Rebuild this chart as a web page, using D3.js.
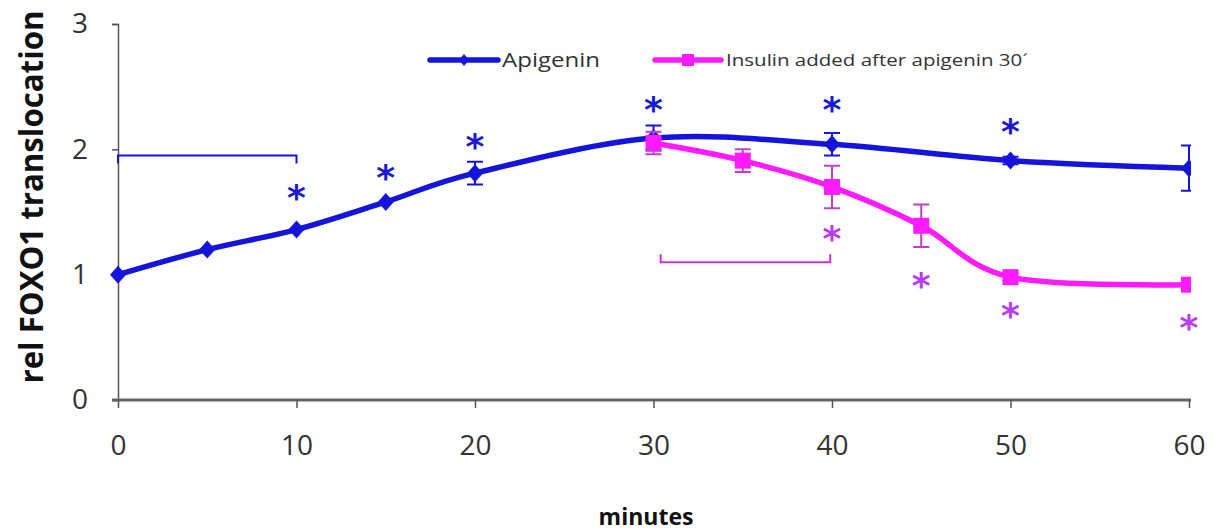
<!DOCTYPE html>
<html lang="en">
<head>
  <meta charset="UTF-8">
  <title>rel FOXO1 translocation</title>
  <style>
    body {
      margin: 0;
      padding: 0;
      background-color: #ffffff;
      font-family: "Open Sans", Arial, sans-serif;
    }
    .axis text {
      font-family: "Open Sans", Arial, sans-serif;
      fill: #333;
    }
  </style>
  <script src="https://d3js.org/d3.v7.min.js"></script>
</head>
<body>
  <div id="chart"></div>
  <script>
    // apigenin alone
    const apiMinutes = [0, 5, 10, 15, 20, 30, 40, 50, 60];
    const apiValues = [1.0, 1.2, 1.36, 1.58, 1.81, 2.09, 2.04, 1.91, 1.85];
    const apiErrors = [0, 0, 0, 0, 0.09, 0.1, 0.09, 0.03, 0.18];

    // insulin added after apigenin 30'
    const insMinutes = [30, 35, 40, 45, 50, 60];
    const insValues = [2.05, 1.91, 1.70, 1.39, 0.98, 0.92];
    const insErrors = [0.09, 0.09, 0.17, 0.17, 0.03, 0.02];

    // significance stars (minute, level)
    const apiStarMinutes = [10, 15, 20, 30, 40, 50];
    const apiStarLevels = [1.66, 1.82, 2.07, 2.36, 2.36, 2.19];
    const insStarMinutes = [40, 45, 50, 60];
    const insStarLevels = [1.33, 0.96, 0.72, 0.62];

    // comparison brackets: [from, to, level]
    const apiBracket = [0, 10, 1.95];
    const insBracket = [30.4, 39.9, 1.10];

    const xTicks = [0, 10, 20, 30, 40, 50, 60];
    const yTicks = [0, 1, 2, 3];
    const legendLabels = ["Apigenin", "Insulin added after apigenin 30\u00B4"];

    const width = 1213;
    const height = 532;
    const blue = "#1414dc";
    const pink = "#ff1aff";
    const blueStar = "#1a1ad6";
    const pinkStar = "#bb3cf0";
    const pinkErr = "#c040c8";

    const svg = d3.select("#chart")
      .append("svg")
      .attr("width", width)
      .attr("height", height);

    const x = d3.scaleLinear().domain([0, 60]).range([118, 1189]);
    const y = d3.scaleLinear().domain([0, 3]).range([400, 24]);

    svg.append("clipPath").attr("id", "plotClip")
      .append("rect")
      .attr("x", 100).attr("y", 0)
      .attr("width", x(60) + 2 - 100).attr("height", 420);

    // y axis
    const yAxis = svg.append("g")
      .attr("class", "axis")
      .attr("transform", `translate(${x(0)},0)`)
      .call(d3.axisLeft(y).tickValues(yTicks).tickSize(6).tickPadding(24).tickFormat(d3.format("d")));
    yAxis.select(".domain").attr("stroke", "#555").attr("stroke-width", 1.5);
    yAxis.selectAll(".tick line").attr("stroke", "#555").attr("stroke-width", 1.5);
    yAxis.selectAll("text").style("font-size", "28px");

    // x axis
    const xAxis = svg.append("g")
      .attr("class", "axis")
      .attr("transform", `translate(0,${y(0)})`)
      .call(d3.axisBottom(x).tickValues(xTicks).tickSize(8).tickPadding(27));
    xAxis.select(".domain").attr("stroke", "#666").attr("stroke-width", 3)
      .attr("d", `M${x(0) - 6},0H${x(60) + 2}`);
    xAxis.selectAll(".tick line").attr("stroke", "#555").attr("stroke-width", 1.5);
    xAxis.selectAll("text").style("font-size", "28px");

    // axis titles
    svg.append("text")
      .attr("transform", `translate(43,197) rotate(-90)`)
      .attr("text-anchor", "middle")
      .style("font-size", "32px")
      .style("font-weight", "bold")
      .attr("fill", "#111")
      .attr("textLength", 373)
      .attr("lengthAdjust", "spacingAndGlyphs")
      .text("rel FOXO1 translocation");

    svg.append("text")
      .attr("x", 646)
      .attr("y", 525)
      .attr("text-anchor", "middle")
      .style("font-size", "23px")
      .style("font-weight", "bold")
      .attr("fill", "#111")
      .text("minutes");

    const plot = svg.append("g").attr("clip-path", "url(#plotClip)");

    // brackets
    function bracket(b, color, dir) {
      const h = dir * 8;
      plot.append("path")
        .attr("d", `M${x(b[0])},${y(b[2]) + h}V${y(b[2])}H${x(b[1])}V${y(b[2]) + h}`)
        .attr("fill", "none")
        .attr("stroke", color)
        .attr("stroke-width", 2);
    }
    bracket(apiBracket, blue, 1);
    bracket(insBracket, "#d030d8", -1);

    const line = d3.line()
      .x(d => x(d[0]))
      .y(d => y(d[1]))
      .curve(d3.curveCardinal.tension(0));

    const apiData = apiMinutes.map((m, i) => [m, apiValues[i], apiErrors[i]]);
    const insData = insMinutes.map((m, i) => [m, insValues[i], insErrors[i]]);

    function errorBars(data, color) {
      const g = plot.append("g");
      data.filter(d => d[2] > 0).forEach(d => {
        const cx = x(d[0]);
        const y1 = y(d[1] + d[2]);
        const y2 = y(d[1] - d[2]);
        g.append("path")
          .attr("d", `M${cx},${y1}V${y2}M${cx - 8},${y1}H${cx + 8}M${cx - 8},${y2}H${cx + 8}`)
          .attr("stroke", color)
          .attr("stroke-width", 2)
          .attr("fill", "none");
      });
    }

    errorBars(apiData, blue);

    plot.append("path")
      .datum(apiData)
      .attr("d", line)
      .attr("fill", "none")
      .attr("stroke", blue)
      .attr("stroke-width", 5.5);

    plot.selectAll(".api-pt")
      .data(apiData)
      .enter()
      .append("path")
      .attr("class", "api-pt")
      .attr("transform", d => `translate(${x(d[0])},${y(d[1])})`)
      .attr("d", "M0,-9L8,0L0,9L-8,0Z")
      .attr("fill", blue);

    errorBars(insData, pinkErr);

    plot.append("path")
      .datum(insData)
      .attr("d", line)
      .attr("fill", "none")
      .attr("stroke", pink)
      .attr("stroke-width", 5.5);

    plot.selectAll(".ins-pt")
      .data(insData)
      .enter()
      .append("rect")
      .attr("class", "ins-pt")
      .attr("x", d => x(d[0]) - 8)
      .attr("y", d => y(d[1]) - 8)
      .attr("width", 16)
      .attr("height", 16)
      .attr("fill", pink);

    // stars
    function stars(ms, levels, color) {
      svg.append("g").selectAll("text")
        .data(ms.map((m, i) => [m, levels[i]]))
        .enter()
        .append("text")
        .attr("x", d => x(d[0]))
        .attr("y", d => y(d[1]) + 18)
        .attr("text-anchor", "middle")
        .style("font-family", "DejaVu Sans, sans-serif")
        .style("font-size", "36px")
        .style("font-weight", "bold")
        .attr("fill", color)
        .text("*");
    }
    stars(apiStarMinutes, apiStarLevels, blueStar);
    stars(insStarMinutes, insStarLevels, pinkStar);

    // legend
    const legend = svg.append("g").attr("class", "legend");
    const l1 = legend.append("g").attr("transform", "translate(430,60)");
    l1.append("line").attr("x1", 0).attr("x2", 68).attr("stroke", blue).attr("stroke-width", 5.5).attr("stroke-linecap", "round");
    l1.append("path").attr("d", "M34,-6L39,0L34,6L29,0Z").attr("fill", blue);
    l1.append("text").attr("x", 72).attr("y", 7)
      .style("font-size", "20px").attr("fill", "#333")
      .attr("textLength", 98).attr("lengthAdjust", "spacingAndGlyphs")
      .text(legendLabels[0]);

    const l2 = legend.append("g").attr("transform", "translate(655,60)");
    l2.append("line").attr("x1", 0).attr("x2", 66).attr("stroke", pink).attr("stroke-width", 5.5).attr("stroke-linecap", "round");
    l2.append("rect").attr("x", 27).attr("y", -6).attr("width", 12).attr("height", 12).attr("fill", pink);
    l2.append("text").attr("x", 71).attr("y", 6)
      .style("font-size", "17px").attr("fill", "#333")
      .attr("textLength", 302).attr("lengthAdjust", "spacingAndGlyphs")
      .text(legendLabels[1]);
  </script>
</body>
</html>
